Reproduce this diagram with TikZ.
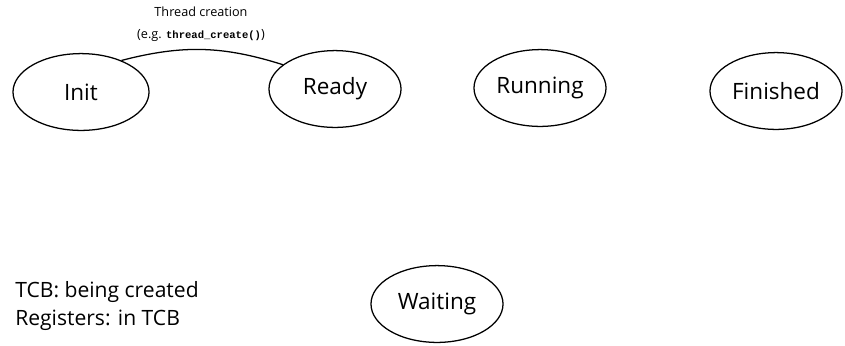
\documentclass[tikz,border=0pt]{standalone}
\usepackage{fontspec}
\setmainfont{Open Sans}
\newfontfamily\codefont{Liberation Mono}
\usetikzlibrary{shapes.geometric,positioning}

\begin{document}
\begin{tikzpicture}[
    x=0.025cm,y=-0.025cm,
    st/.style={ellipse,draw,line width=0.9pt,inner sep=0pt,minimum width=#1,minimum height=1.92cm,font=\fontsize{16}{19}\selectfont},
    st/.default=3.3cm,
    note/.style={inner sep=0pt,font=\fontsize{15}{20.6}\selectfont},
]
\useasboundingbox (0,0) rectangle (845,345);

% thread states
\node[st=3.4cm] (init) at (81,92) {Init};
\node[st=3.3cm] (ready) at (335,89) {Ready};
\node[st=3.3cm] (run) at (540,88) {Running};
\node[st=3.3cm] (fin) at (776,91) {Finished};
\node[st=3.3cm] (wait) at (437,304) {Waiting};

% transition init -> ready
\draw[line width=0.9pt] (init.38) to[bend left=16] (ready.155);
\node[inner sep=0pt,align=center,font=\fontsize{9}{15.5}\selectfont] (create) at (201,24)
    {Thread creation\\(e.g. {\codefont\bfseries\fontsize{7.5}{9}\selectfont thread\_create()})};

\node[note,anchor=west,align=left] (tcb) at (15,306) {TCB: being created\\Registers: in TCB};
\end{tikzpicture}
\end{document}
